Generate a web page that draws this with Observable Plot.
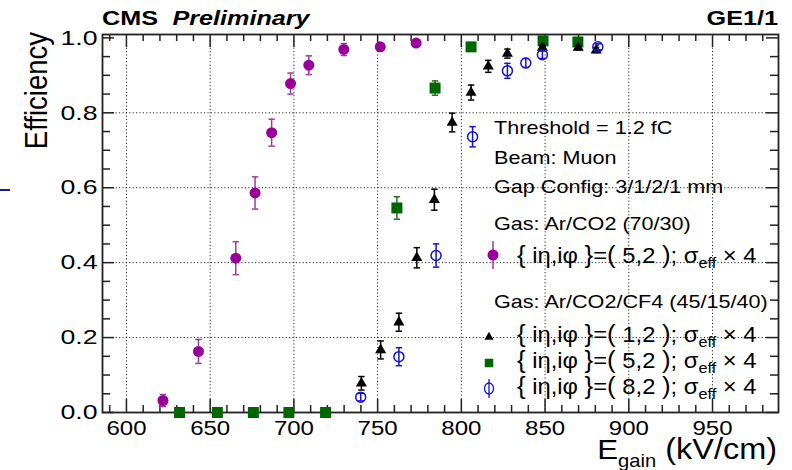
<!DOCTYPE html>
<html><head><meta charset="utf-8">
<script src="https://cdn.jsdelivr.net/npm/d3@7"></script>
<script src="https://cdn.jsdelivr.net/npm/@observablehq/plot@0.6"></script>
<style>
html,body{margin:0;padding:0;background:#fff;}
#chart{width:792px;height:470px;}
</style></head><body><div id="chart"></div>
<script>
// ---- data (E_gain in kV/cm, efficiency, error) ----
const purpleE   = [621.8, 643.0, 665.3, 676.8, 686.7, 698.0, 708.9, 729.8, 751.6, 773.0];
const purpleEff = [0.032, 0.163, 0.412, 0.586, 0.747, 0.878, 0.927, 0.969, 0.976, 0.986];
const purpleErr = [0.016, 0.032, 0.044, 0.043, 0.036, 0.028, 0.025, 0.016, 0.008, 0.006];

const greenE   = [631.7, 654.3, 675.8, 697.0, 718.9, 761.5, 784.3, 805.8, 848.8, 869.6];
const greenEff = [0, 0, 0, 0, 0, 0.546, 0.866, 0.976, 0.992, 0.989];
const greenErr = [0, 0, 0, 0, 0, 0.030, 0.019, 0.008, 0.005, 0.006];

const blackE   = [740.3, 751.8, 762.7, 773.4, 783.9, 794.5, 805.8, 816.1, 827.5, 848.4, 869.8, 880.5];
const blackEff = [0.078, 0.167, 0.241, 0.413, 0.568, 0.774, 0.854, 0.924, 0.958, 0.974, 0.974, 0.967];
const blackErr = [0.018, 0.024, 0.024, 0.027, 0.028, 0.025, 0.020, 0.016, 0.012, 0.008, 0.006, 0.006];

const blueE   = [739.9, 762.7, 784.9, 806.7, 827.5, 838.5, 848.4, 881.5];
const blueEff = [0.041, 0.149, 0.419, 0.736, 0.912, 0.933, 0.955, 0.976];
const blueErr = [0.010, 0.024, 0.031, 0.027, 0.020, 0.012, 0.010, 0.008];

const xMajorTicks = [600, 650, 700, 750, 800, 850, 900, 950];
const xTickLabels = ["600", "650", "700", "750", "800", "850", "900", "950"];
const yMajorTicks = [0, 0.2, 0.4, 0.6, 0.8, 1.0];
const yTickLabels = ["0.0", "0.2", "0.4", "0.6", "0.8", "1.0"];
const xMinorTicks = d3.range(590, 990, 10).filter(v => v % 50 !== 0);
const yMinorTicks = d3.range(1, 20).filter(k => k % 4 !== 0).map(k => k * 0.05);
const yGrid = [0.2, 0.4, 0.6, 0.8];

const infoLines = ["Threshold = 1.2 fC", "Beam: Muon", "Gap Config: 3/1/2/1 mm", "Gas: Ar/CO2 (70/30)"];
const gasLine2 = "Gas: Ar/CO2/CF4 (45/15/40)";
const entryIndex = ["5,2", "1,2", "5,2", "8,2"];

// ---- layout ----
const W = 792, H = 470, mt = 34, mb = 58, ml = 102, mr = 14;
const ph = H - mt - mb, pw = W - ml - mr;
const SX = 1.2;  // horizontal text stretch of the reference
const FONT = "Liberation Sans, Arial, Helvetica, sans-serif";

const rows = (E, eff, err) => E.map((e, i) => ({e, eff: eff[i], err: err[i]}));
const purple = rows(purpleE, purpleEff, purpleErr);
const green = rows(greenE, greenEff, greenErr);
const black = rows(blackE, blackEff, blackErr);
const blue = rows(blueE, blueEff, blueErr);

const cap = {draw(ctx, size) { const r = Math.sqrt(size / Math.PI); ctx.moveTo(-r, 0); ctx.lineTo(r, 0); }};

function series(data, barColor, symbol, r, fill, stroke, sw) {
  const we = data.filter(d => d.err > 0);
  return [
    Plot.ruleX(we, {x: "e", y1: d => d.eff - d.err, y2: d => d.eff + d.err, stroke: barColor, strokeWidth: 1.5}),
    Plot.dot(we, {x: "e", y: d => d.eff - d.err, symbol: cap, r: 3.2, stroke: barColor, strokeWidth: 1.5}),
    Plot.dot(we, {x: "e", y: d => d.eff + d.err, symbol: cap, r: 3.2, stroke: barColor, strokeWidth: 1.5}),
    Plot.dot(data, {x: "e", y: "eff", symbol, r, fill, stroke, strokeWidth: sw})
  ];
}

const tickStroke = {stroke: "#222", strokeWidth: 1.5};
const gridStyle = {stroke: "#000", strokeWidth: 1, strokeDasharray: "1.2,2.2", strokeOpacity: 0.85};

const plot = Plot.plot({
  width: W, height: H,
  marginTop: mt, marginBottom: mb, marginLeft: ml, marginRight: mr,
  style: {fontFamily: FONT, fontSize: "20px", color: "#000", background: "#fff"},
  x: {domain: [585.7, 989.4]},
  y: {domain: [0, 1.009]},
  marks: [
    Plot.gridX(xMajorTicks, gridStyle),
    Plot.gridY(yGrid, gridStyle),
    // inward ticks: bottom / top
    Plot.tickX(xMajorTicks, {x: d => d, insetTop: ph - 13, ...tickStroke}),
    Plot.tickX(xMinorTicks, {x: d => d, insetTop: ph - 7, ...tickStroke}),
    Plot.tickX(xMajorTicks, {x: d => d, insetBottom: ph - 13, ...tickStroke}),
    Plot.tickX(xMinorTicks, {x: d => d, insetBottom: ph - 7, ...tickStroke}),
    // inward ticks: left / right
    Plot.tickY(yMajorTicks, {y: d => d, insetRight: pw - 12, ...tickStroke}),
    Plot.tickY(yMinorTicks, {y: d => d, insetRight: pw - 8, ...tickStroke}),
    Plot.tickY(yMajorTicks, {y: d => d, insetLeft: pw - 12, ...tickStroke}),
    Plot.tickY(yMinorTicks, {y: d => d, insetLeft: pw - 8, ...tickStroke}),
    Plot.frame({stroke: "#222", strokeWidth: 1.8}),
    Plot.axisX({ticks: xMajorTicks, tickFormat: d => xTickLabels[xMajorTicks.indexOf(d)], tickSize: 0, tickPadding: 8, fontSize: 20, label: null, fill: "#000"}),
    Plot.axisY({ticks: yMajorTicks, tickFormat: d => yTickLabels[yMajorTicks.indexOf(d)], tickSize: 0, tickPadding: 5, fontSize: 21, label: null, fill: "#000"}),
    ...series(purple, "#9b3d9b", "circle", 5.5, "#990099", "none", 0),
    ...series(green, "#2a6a2a", "square", 6.2, "#006600", "none", 0),
    ...series(black, "#000", "triangle", 4.1, "#000", "none", 0),
    ...series(blue, "#1414c8", "circle", 5.0, "none", "#1414c8", 1.5)
  ]
});
document.getElementById("chart").appendChild(plot);

// stretch tick labels horizontally like the reference
plot.querySelectorAll('g[aria-label="x-axis tick label"] text').forEach(t => {
  const L = t.getComputedTextLength();
  t.setAttribute("textLength", L * SX);
  t.setAttribute("lengthAdjust", "spacingAndGlyphs");
});
plot.querySelectorAll('g[aria-label="y-axis tick label"] text').forEach(t => {
  const L = t.getComputedTextLength();
  t.setAttribute("textLength", L * 1.27);
  t.setAttribute("lengthAdjust", "spacingAndGlyphs");
});

// ---- annotations (real text) ----
const svg = d3.select(plot);
const g = svg.append("g").attr("font-family", FONT).attr("fill", "#000");

function txt(x, y, anchor, parts, scale = SX) {
  const t = g.append("text").attr("transform", `translate(${x},${y}) scale(${scale},1)`).attr("text-anchor", anchor);
  parts.forEach(p => {
    const s = t.append("tspan").text(p.t).attr("font-size", p.s);
    if (p.w) s.attr("font-weight", p.w);
    if (p.i) s.attr("font-style", "italic");
    if (p.dy) s.attr("dy", p.dy);
    if (p.dx) s.attr("dx", p.dx);
  });
  return t;
}

// header
txt(102, 25, "start", [{t: "CMS", s: 21, w: "bold"}, {t: "Preliminary", s: 21, w: "bold", i: true, dx: 12}]);
txt(778, 25, "end", [{t: "GE1/1", s: 21, w: "bold"}]);

// y title
g.append("text").attr("transform", `translate(47,32) rotate(-90) scale(1,1.12)`)
  .attr("text-anchor", "end").attr("font-size", 27.5).text("Efficiency");

// x title
txt(777, 459, "end", [{t: "E", s: 28}, {t: "gain", s: 18, dy: 8}, {t: " (kV/cm)", s: 29, dy: -8}], 1.12);

// info text
const infoY = [134, 164, 193, 230];
infoLines.forEach((s, i) => txt(494, infoY[i], "start", [{t: s, s: 18}]));
txt(494, 308, "start", [{t: gasLine2, s: 18}]);

// legend entries
const entryY = [263, 342, 368, 394];
entryIndex.forEach((idx, i) => {
  txt(517, entryY[i], "start", [
    {t: "{", s: 24}, {t: " iη,iφ ", s: 22}, {t: "}", s: 24}, {t: "=", s: 22},
    {t: "(", s: 24}, {t: " " + idx + " ", s: 22}, {t: ")", s: 24}, {t: "; σ", s: 22},
    {t: "eff", s: 15, dy: 5}, {t: " × 4", s: 22, dy: -5}
  ], 1.08);
});

// legend markers
const lm = svg.append("g");
lm.append("line").attr("x1", 493).attr("x2", 493).attr("y1", 241).attr("y2", 269).attr("stroke", "#9b3d9b").attr("stroke-width", 1.5);
lm.append("circle").attr("cx", 493).attr("cy", 255).attr("r", 5.5).attr("fill", "#990099");
lm.append("path").attr("transform", "translate(489,337)").attr("d", d3.symbol(d3.symbolTriangle, Math.PI * 3.4 * 3.4)()).attr("fill", "#000");
lm.append("path").attr("transform", "translate(489,363)").attr("d", d3.symbol(d3.symbolSquare, Math.PI * 4.8 * 4.8)()).attr("fill", "#006600");
lm.append("line").attr("x1", 489).attr("x2", 489).attr("y1", 379).attr("y2", 398).attr("stroke", "#1414c8").attr("stroke-width", 1.3);
lm.append("ellipse").attr("cx", 489).attr("cy", 388.5).attr("rx", 4.5).attr("ry", 5.5).attr("fill", "none").attr("stroke", "#1414c8").attr("stroke-width", 1.3);

// small stray mark at the left edge of the reference image
svg.append("line").attr("x1", 0).attr("x2", 10).attr("y1", 190).attr("y2", 190).attr("stroke", "#1a1a9a").attr("stroke-width", 2);
</script>
</body></html>
